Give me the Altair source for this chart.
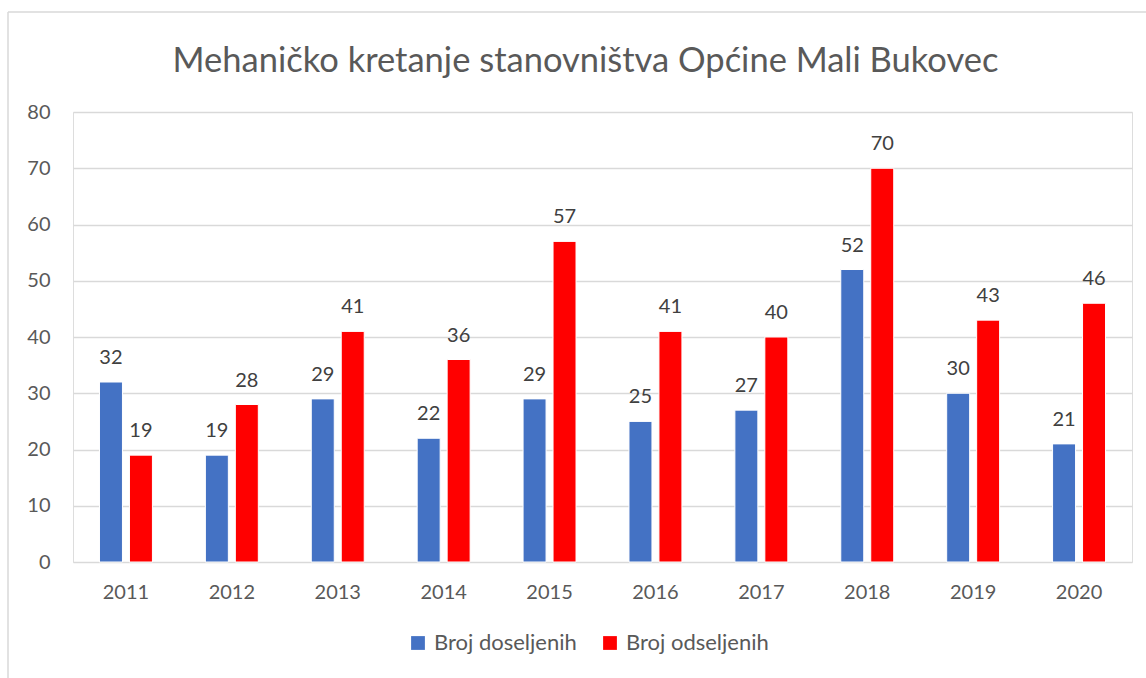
import altair as alt
import pandas as pd

years = ["2011", "2012", "2013", "2014", "2015", "2016", "2017", "2018", "2019", "2020"]
doseljeni = [32, 19, 29, 22, 29, 25, 27, 52, 30, 21]
odseljeni = [19, 28, 41, 36, 57, 41, 40, 70, 43, 46]
series = ["Broj doseljenih", "Broj odseljenih"]
colors = ["#4472C4", "#FF0000"]

rows = []
for i, y in enumerate(years):
    rows.append({"year": y, "series": series[0], "value": doseljeni[i]})
    rows.append({"year": y, "series": series[1], "value": odseljeni[i]})
df = pd.DataFrame(rows)

FONT = "Lato"
GRAY = "#595959"

x = alt.X("year:N", sort=years, title=None,
          scale=alt.Scale(paddingInner=0.5, paddingOuter=0.25),
          axis=alt.Axis(labelAngle=0, ticks=False, domain=False, labelPadding=20,
                        labelFont=FONT, labelFontSize=20, labelColor=GRAY))
xo = alt.XOffset("series:N", sort=series, scale=alt.Scale(paddingInner=0.233, paddingOuter=0))
y = alt.Y("value:Q", title=None,
          scale=alt.Scale(domain=[0, 80], nice=False),
          axis=alt.Axis(values=[0, 10, 20, 30, 40, 50, 60, 70, 80], ticks=False, domain=False,
                        grid=True, gridColor="#D9D9D9", gridWidth=1.3, labelPadding=23,
                        labelFont=FONT, labelFontSize=20, labelColor=GRAY))
color = alt.Color("series:N", sort=series, title=None,
                  scale=alt.Scale(domain=series, range=colors),
                  legend=alt.Legend(orient="none", legendX=334, legendY=520, direction="horizontal",
                                    symbolType="square", symbolSize=190, symbolStrokeWidth=0,
                                    labelFont=FONT, labelFontSize=22, labelColor=GRAY,
                                    columnPadding=22, labelOffset=5))

base = alt.Chart(df)
bars = base.mark_bar(stroke="white", strokeWidth=1).encode(x=x, xOffset=xo, y=y, color=color)
labels = base.mark_text(baseline="bottom", dy=-14, font=FONT, fontSize=20, color="#404040").encode(
    x=x, xOffset=xo, y=y, text="value:Q")

border_data = alt.Data(values=[{"a": 1}])
top_border = alt.Chart(border_data).mark_rule(color="#D9D9D9", strokeWidth=1.5).encode(
    x=alt.value(-65), x2=alt.value(1080), y=alt.value(-100))
left_border = alt.Chart(border_data).mark_rule(color="#D9D9D9", strokeWidth=1.5).encode(
    x=alt.value(-65), y=alt.value(-100), y2=alt.value(570))

chart = alt.layer(top_border, left_border, bars, labels).properties(
    width=1059, height=450,
    title=alt.TitleParams("Mehaničko kretanje stanovništva Općine Mali Bukovec",
                          font=FONT, fontSize=34.5, fontWeight="normal", color=GRAY,
                          anchor="middle", offset=0, dy=68, dx=-17),
    autosize=alt.AutoSizeParams(type="none"),
    padding={"left": 73, "top": 112, "right": 14, "bottom": 116},
).configure_view(stroke=None).configure(background="white")

chart.save("out.html", embed_options={"renderer": "svg", "actions": False})
